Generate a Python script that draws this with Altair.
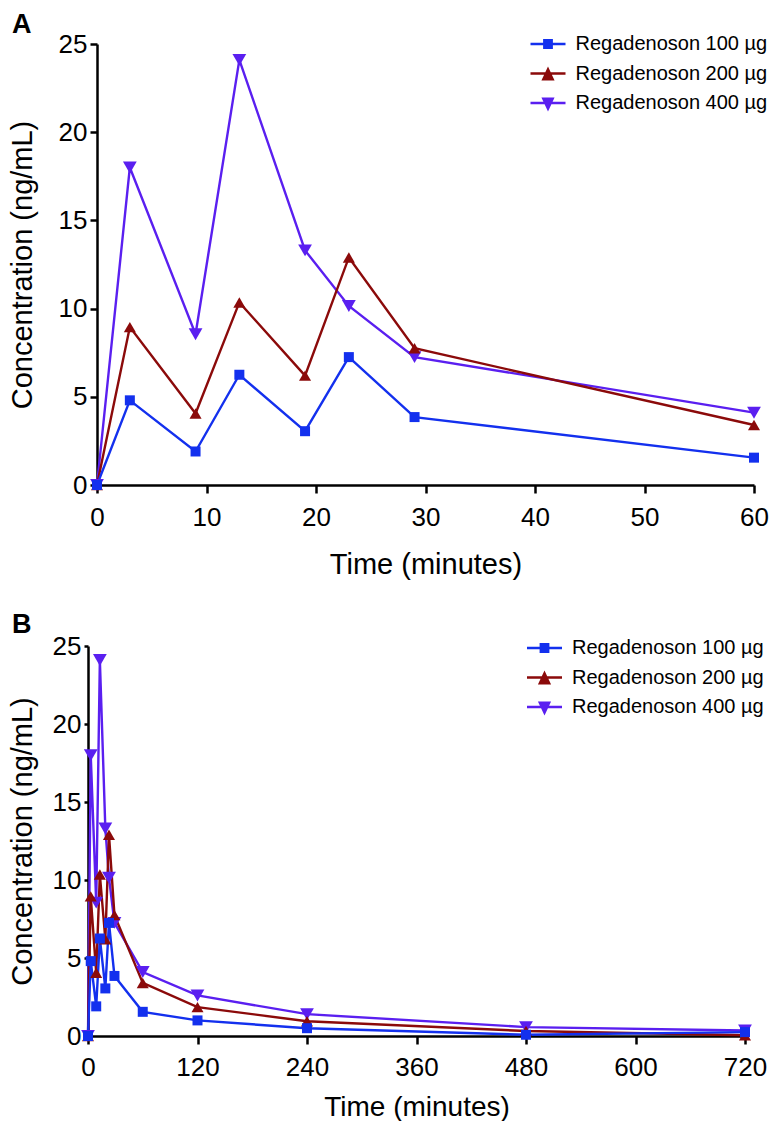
import altair as alt
import pandas as pd

series_names = ["Regadenoson 100 µg", "Regadenoson 200 µg", "Regadenoson 400 µg"]
series_colors = ["#1330ee", "#8b0a0a", "#5a1ff0"]
series_shapes = ["square", "triangle-up", "triangle-down"]
panel_labels = ["A", "B"]

# Panel A time points (minutes) and concentrations (ng/mL)
times_a = [0, 3, 9, 13, 19, 23, 29, 60]
conc_100_a = [0, 4.8, 1.9, 6.25, 3.05, 7.25, 3.85, 1.55]
conc_200_a = [0, 8.95, 4.05, 10.35, 6.2, 12.9, 7.75, 3.4]
conc_400_a = [0, 18.0, 8.55, 24.1, 13.3, 10.15, 7.25, 4.1]

# Panel B adds later time points
times_late = [120, 240, 480, 720]
conc_100_late = [1.0, 0.5, 0.08, 0.25]
conc_200_late = [1.85, 0.95, 0.32, 0.05]
conc_400_late = [2.6, 1.4, 0.57, 0.35]

x_ticks_a = [0, 10, 20, 30, 40, 50, 60]
x_ticks_b = [0, 120, 240, 360, 480, 600, 720]
y_ticks = [0, 5, 10, 15, 20, 25]

FONT = "Liberation Sans, Arial, sans-serif"

# legend keys: a short line with the marker on it (unit coordinates, filled shapes)
KEY_SQUARE = "M-1.25,-0.085H1.25V0.085H-1.25Z M-0.35,-0.35H0.35V0.35H-0.35Z"
KEY_TRI_UP = "M-1.25,-0.085H1.25V0.085H-1.25Z M0,-0.5L0.47,0.5H-0.47Z"
KEY_TRI_DOWN = "M-1.25,-0.085H1.25V0.085H-1.25Z M0,0.6L-0.47,-0.4H0.47Z"
key_shapes = [KEY_SQUARE, KEY_TRI_UP, KEY_TRI_DOWN]


def build_frame(times, c100, c200, c400):
    rows = []
    # draw order: 400 first, 100 last (on top)
    for name, vals in [(series_names[2], c400), (series_names[1], c200), (series_names[0], c100)]:
        for t, v in zip(times, vals):
            rows.append({"time": t, "conc": v, "series": name})
    return pd.DataFrame(rows)


df_a = build_frame(times_a, conc_100_a, conc_200_a, conc_400_a)
df_b = build_frame(times_a + times_late, conc_100_a + conc_100_late,
                   conc_200_a + conc_200_late, conc_400_a + conc_400_late)


def panel(df, label, xdomain, xticks, width, height, xrange, y_offset, label_x, label_y,
          legend_x, legend_y, y_tick, y_title_pad, x_tick, x_label_pad, x_title_pad, x_title_size):
    x = alt.X("time:Q",
              scale=alt.Scale(domain=xdomain, nice=False, zero=False, range=xrange),
              axis=alt.Axis(values=xticks, title="Time (minutes)", tickSize=x_tick,
                            labelPadding=x_label_pad, titlePadding=x_title_pad,
                            titleFontSize=x_title_size,
                            labelFlush=False, labelOverlap=False))
    y = alt.Y("conc:Q",
              scale=alt.Scale(domain=[0, 25], nice=False),
              axis=alt.Axis(values=y_ticks, title="Concentration (ng/mL)", tickSize=y_tick,
                            labelPadding=3, titlePadding=y_title_pad, offset=y_offset,
                            labelFlush=False, labelOverlap=False))
    legend = alt.Legend(
        orient="none", legendX=legend_x, legendY=legend_y, title=None,
        symbolSize=784, symbolStrokeWidth=0, symbolOpacity=1,
        labelFont=FONT, labelFontSize=20, labelColor="black", labelOffset=13.5,
        labelLimit=400, rowPadding=5.5, padding=0,
    )
    base = alt.Chart(df)
    lines = base.mark_line(strokeWidth=2.4).encode(
        x=x, y=y,
        color=alt.Color("series:N", scale=alt.Scale(domain=series_names, range=series_colors), legend=None),
        order="time:Q",
    )
    points = base.mark_point(filled=True, opacity=1).encode(
        x=x, y=y,
        color=alt.Color("series:N", scale=alt.Scale(domain=series_names, range=series_colors), legend=None),
        shape=alt.Shape("series:N", scale=alt.Scale(domain=series_names, range=series_shapes), legend=None),
        size=alt.Size("series:N", scale=alt.Scale(domain=series_names, range=[100, 190, 190]), legend=None),
    )
    # legend-only layer (no data rows drawn)
    key = base.mark_point(filled=True).encode(
        x=x, y=y,
        color=alt.Color("series:N", scale=alt.Scale(domain=series_names, range=series_colors), legend=legend),
        shape=alt.Shape("series:N", scale=alt.Scale(domain=series_names, range=key_shapes), legend=legend),
    ).transform_filter("false")
    tag = alt.Chart(pd.DataFrame({"label": [label]})).mark_text(
        font=FONT, fontSize=27, fontWeight="bold", align="left", baseline="alphabetic", color="black"
    ).encode(text="label:N", x=alt.value(label_x), y=alt.value(label_y))
    return alt.layer(lines, points, key, tag).resolve_scale(
        color="independent", shape="independent", size="independent"
    ).properties(width=width, height=height)


chart_a = panel(df_a, panel_labels[0], [0, 60], x_ticks_a, 657, 441, [0, 657], 0,
                -85, -11, 437, -14,
                y_tick=7, y_title_pad=21, x_tick=8, x_label_pad=11, x_title_pad=20, x_title_size=29)
chart_b = panel(df_b, panel_labels[1], [0, 720], x_ticks_b, 648, 390, [-9, 648], 9,
                -85, -13, 433.5, -12,
                y_tick=4, y_title_pad=15, x_tick=8, x_label_pad=10, x_title_pad=13, x_title_size=28)

chart = alt.concat(chart_a, chart_b, columns=1, spacing=32, align="none", bounds="full").resolve_scale(
    x="independent", y="independent", color="independent", shape="independent", size="independent"
).resolve_legend(color="independent", shape="independent").properties(
    padding={"top": 3, "left": 0, "right": 0, "bottom": 0}
).configure_view(
    stroke=None
).configure_axis(
    grid=False, domainColor="black", domainWidth=2.5, tickColor="black", tickWidth=2.5,
    labelColor="black", titleColor="black", labelFont=FONT, titleFont=FONT,
    labelFontSize=26, titleFontSize=29, titleFontWeight="normal",
)

chart.save("out.html", embed_options={"renderer": "svg", "actions": False})
